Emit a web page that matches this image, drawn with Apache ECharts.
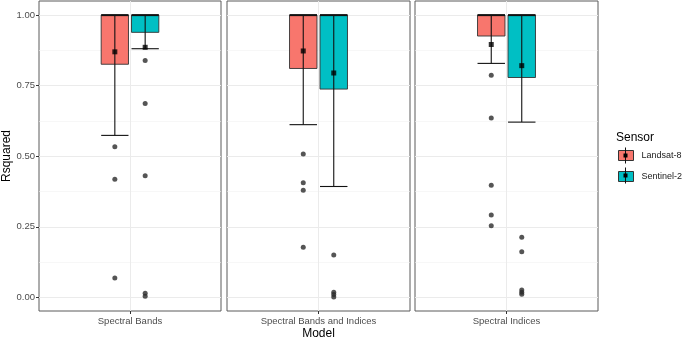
<!DOCTYPE html>
<html>
<head>
<meta charset="utf-8">
<script src="https://cdn.jsdelivr.net/npm/echarts@6/dist/echarts.min.js"></script>
<style>
  html, body { margin: 0; padding: 0; background: #fff; }
  #chart { width: 684px; height: 339px; }
</style>
</head>
<body>
<div id="chart"></div>
<script>
// 数据
const categories = ['Spectral Bands', 'Spectral Bands and Indices', 'Spectral Indices'];
const sensors = ['Landsat-8', 'Sentinel-2'];
const colors = ['#F8766D', '#00BFC4'];
const yTicks = [0, 0.25, 0.5, 0.75, 1];
const yMinorTicks = [0.125, 0.375, 0.625, 0.875];

// Landsat-8: whisker low, Q1, top (median/Q3), mean, outliers
const landsatLow = [0.574, 0.612, 0.829];
const landsatQ1 = [0.826, 0.811, 0.926];
const landsatTop = [1, 1, 1];
const landsatMean = [0.870, 0.873, 0.896];
const landsatOutliers = [
    [0.534, 0.419, 0.069],
    [0.508, 0.406, 0.380, 0.178],
    [0.787, 0.636, 0.397, 0.292, 0.254]
];

// Sentinel-2
const sentinelLow = [0.881, 0.393, 0.621];
const sentinelQ1 = [0.939, 0.738, 0.779];
const sentinelTop = [1, 1, 1];
const sentinelMean = [0.886, 0.795, 0.821];
const sentinelOutliers = [
    [0.839, 0.687, 0.431, 0.015, 0.004],
    [0.150, 0.018, 0.010, 0.002],
    [0.213, 0.162, 0.026, 0.018, 0.011]
];

const dodge = 0.1;
const boxHalf = 0.09;
const font = 'Liberation Sans, Arial, sans-serif';

var myChart = echarts.init(document.getElementById('chart'));

function renderBox(params, api) {
    const x = api.value(0);
    const top = api.coord([x, api.value(3)]);
    const q1 = api.coord([x, api.value(2)]);
    const low = api.coord([x, api.value(1)]);
    const half = api.size([boxHalf, 0])[0];
    const cx = top[0];
    const fill = api.visual('color');
    return {
        type: 'group',
        children: [
            { type: 'rect', shape: { x: cx - half, y: top[1], width: half * 2, height: q1[1] - top[1] },
              style: { fill: fill, stroke: '#333', lineWidth: 0.9 } },
            { type: 'line', shape: { x1: cx, y1: low[1], x2: cx, y2: top[1] },
              style: { stroke: '#111', lineWidth: 1.1 } },
            { type: 'line', shape: { x1: cx - half, y1: low[1], x2: cx + half, y2: low[1] },
              style: { stroke: '#111', lineWidth: 1.1 } },
            { type: 'line', shape: { x1: cx - half, y1: top[1], x2: cx + half, y2: top[1] },
              style: { stroke: '#111', lineWidth: 2 } }
        ]
    };
}

const grids = [], xAxes = [], yAxes = [], series = [];
const gridLefts = [39, 227, 415];
const gridWidths = [182, 183, 183];

categories.forEach(function (cat, i) {
    grids.push({
        left: gridLefts[i], top: 1, width: gridWidths[i], height: 310,
        outerBoundsMode: 'none', containLabel: false,
        show: true, borderColor: '#5a5a5a', borderWidth: 1, backgroundColor: '#fff'
    });
    xAxes.push({
        type: 'value', gridIndex: i, min: -0.6, max: 0.6, position: 'bottom',
        axisLine: { show: false, onZero: false },
        axisTick: { show: true, customValues: [0], length: 3, lineStyle: { color: '#333' } },
        axisLabel: { customValues: [0], formatter: function () { return cat; },
                     color: '#4d4d4d', fontSize: 9.5, fontFamily: font, margin: 5 },
        splitLine: { show: true, lineStyle: { color: '#ebebeb', width: 1 } },
        name: i === 1 ? 'Model' : '', nameLocation: 'middle', nameGap: 17, nameMoveOverlap: false,
        nameTextStyle: { color: '#000', fontSize: 12, fontFamily: font }
    });
    yAxes.push({
        type: 'value', gridIndex: i, min: -0.048, max: 1.05, position: 'left',
        axisLine: { show: false, onZero: false },
        axisTick: { show: i === 0, customValues: yTicks, length: 3, lineStyle: { color: '#333' } },
        axisLabel: { show: i === 0, customValues: yTicks, formatter: function (v) { return v.toFixed(2); },
                     color: '#4d4d4d', fontSize: 9.5, fontFamily: font, margin: 4 },
        splitLine: { show: true, lineStyle: { color: '#ebebeb', width: 1 } },
        name: i === 0 ? 'Rsquared' : '', nameLocation: 'middle', nameGap: 26, nameMoveOverlap: false,
        nameTextStyle: { color: '#000', fontSize: 12, fontFamily: font }
    });
    yAxes.push({
        type: 'value', gridIndex: i, min: -0.048, max: 1.05, position: 'left',
        axisLine: { show: false, onZero: false }, axisLabel: { show: false },
        axisTick: { show: false, customValues: yMinorTicks },
        splitLine: { show: true, lineStyle: { color: '#f2f2f2', width: 0.6 } }
    });

    const groups = [
        { name: sensors[0], off: -dodge, low: landsatLow, q1: landsatQ1, top: landsatTop, mean: landsatMean, out: landsatOutliers, color: colors[0] },
        { name: sensors[1], off: dodge, low: sentinelLow, q1: sentinelQ1, top: sentinelTop, mean: sentinelMean, out: sentinelOutliers, color: colors[1] }
    ];
    groups.forEach(function (g) {
        series.push({
            name: g.name, type: 'custom', xAxisIndex: i, yAxisIndex: i * 2,
            itemStyle: { color: g.color, borderColor: '#333', borderWidth: 1 },
            encode: { x: 0, y: [1, 2, 3] },
            renderItem: renderBox,
            data: [[g.off, g.low[i], g.q1[i], g.top[i]]],
            z: 2
        });
    });
    groups.forEach(function (g) {
        series.push({
            type: 'scatter', xAxisIndex: i, yAxisIndex: i * 2,
            symbol: 'circle', symbolSize: 5, itemStyle: { color: '#2b2b2b' },
            data: g.out[i].map(function (v) { return [g.off, v]; }),
            z: 3, silent: true
        });
        series.push({
            type: 'scatter', xAxisIndex: i, yAxisIndex: i * 2,
            symbol: 'rect', symbolSize: 5, itemStyle: { color: '#000' },
            data: [[g.off, g.mean[i]]],
            z: 4, silent: true
        });
    });
});

// legend key decoration (whisker line + mean square), like the ggplot key glyph
const keyGlyphs = [];
[155.5, 175.5].forEach(function (cy) {
    keyGlyphs.push({ type: 'line', shape: { x1: 625.5, y1: cy - 8, x2: 625.5, y2: cy + 8 },
                     style: { stroke: '#111', lineWidth: 1 }, z: 100 });
    keyGlyphs.push({ type: 'rect', shape: { x: 623.5, y: cy - 2, width: 4, height: 4 },
                     style: { fill: '#000' }, z: 100 });
});

myChart.setOption({
    animation: false,
    backgroundColor: '#fff',
    title: {
        text: 'Sensor', left: 611, top: 127,
        textStyle: { color: '#000', fontSize: 12, fontWeight: 'normal', fontFamily: font }
    },
    legend: {
        data: sensors, orient: 'vertical', left: 613, top: 145,
        icon: 'rect', itemWidth: 15, itemHeight: 10, itemGap: 10,
        itemStyle: { borderColor: '#333', borderWidth: 1 },
        textStyle: { color: '#1a1a1a', fontSize: 9, fontFamily: font, padding: [0, 0, 0, 3] }
    },
    graphic: keyGlyphs,
    grid: grids,
    xAxis: xAxes,
    yAxis: yAxes,
    series: series
});
</script>
</body>
</html>
